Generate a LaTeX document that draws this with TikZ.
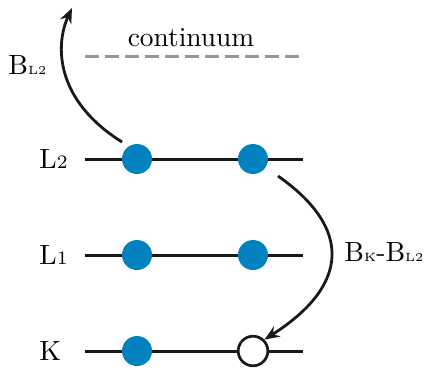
\documentclass[tikz,border=0pt]{standalone}
\usepackage{fontspec}
\setmainfont{lmroman10-regular}[Extension=.otf]
\newfontfamily\fivefont{lmroman5-regular}[Extension=.otf]
\newfontfamily\sevenfont{lmroman7-regular}[Extension=.otf]
\usetikzlibrary{arrows.meta}
\definecolor{dotblue}{RGB}{0,130,190}
\definecolor{contgray}{RGB}{150,150,150}
\begin{document}
\begin{tikzpicture}[x=0.5pt,y=-0.5pt,
  level/.style={line width=1.5pt,black!90},
  fulldot/.style={circle,fill=dotblue,minimum size=15pt,inner sep=0pt},
  emptydot/.style={circle,draw=black!90,fill=white,line width=1.35pt,minimum size=14.8pt,inner sep=0pt},
  lbl/.style={font=\fontsize{13.9}{15}\selectfont,inner sep=0pt,anchor=base west},
  trans/.style={line width=1.4pt,black!90,-{Stealth[length=7.5pt,width=6pt]}},
  cont/.style={line width=1.5pt,contgray,dash pattern=on 7pt off 3pt}]
\useasboundingbox (0,0) rectangle (433,369);
\newcommand{\smallsub}[1]{{\fivefont\fontsize{6}{7}\selectfont #1}}
\newcommand{\midsub}[1]{{\sevenfont\fontsize{9.5}{10}\selectfont #1}}
% continuum
\coordinate (c1) at (85,57);
\coordinate (c2) at (300,57);
\draw[cont] (c1) -- (c2);
\node[font=\fontsize{13.7}{15}\selectfont,inner sep=0pt,anchor=base] (ctext) at (191,47) {continuum};
% levels
\coordinate (l2a) at (85,159); \coordinate (l2b) at (303,159);
\coordinate (l1a) at (85,255); \coordinate (l1b) at (303,255);
\coordinate (ka) at (85,351); \coordinate (kb) at (303,351);
\draw[level] (l2a) -- (l2b);
\draw[level] (l1a) -- (l1b);
\draw[level] (ka) -- (kb);
\node[fulldot] (d21) at (137,159) {};
\node[fulldot] (d22) at (253,159) {};
\node[fulldot] (d11) at (137,255) {};
\node[fulldot] (d12) at (253,255) {};
\node[fulldot] (dk1) at (137,351) {};
\node[emptydot] (dk2) at (253,351) {};
% labels
\node[lbl] (tL2) at (39,168) {L\midsub{2}};
\node[lbl] (tL1) at (39,264) {L\midsub{1}};
\node[lbl] (tK) at (39,360) {K};
\node[lbl] (tB) at (8,75) {B\smallsub{L2}};
\node[lbl] (tBK) at (344,261) {B\smallsub{K}-B\smallsub{L2}};
% transitions
\coordinate (a1s) at (122,142);
\coordinate (a1e) at (72,8);
\draw[trans] (a1s) .. controls (55,100) and (55,45) .. (a1e);
\coordinate (a2s) at (278,176);
\draw[trans] (a2s) .. controls (352,228) and (350,285) .. (dk2.north east);
\end{tikzpicture}
\end{document}
